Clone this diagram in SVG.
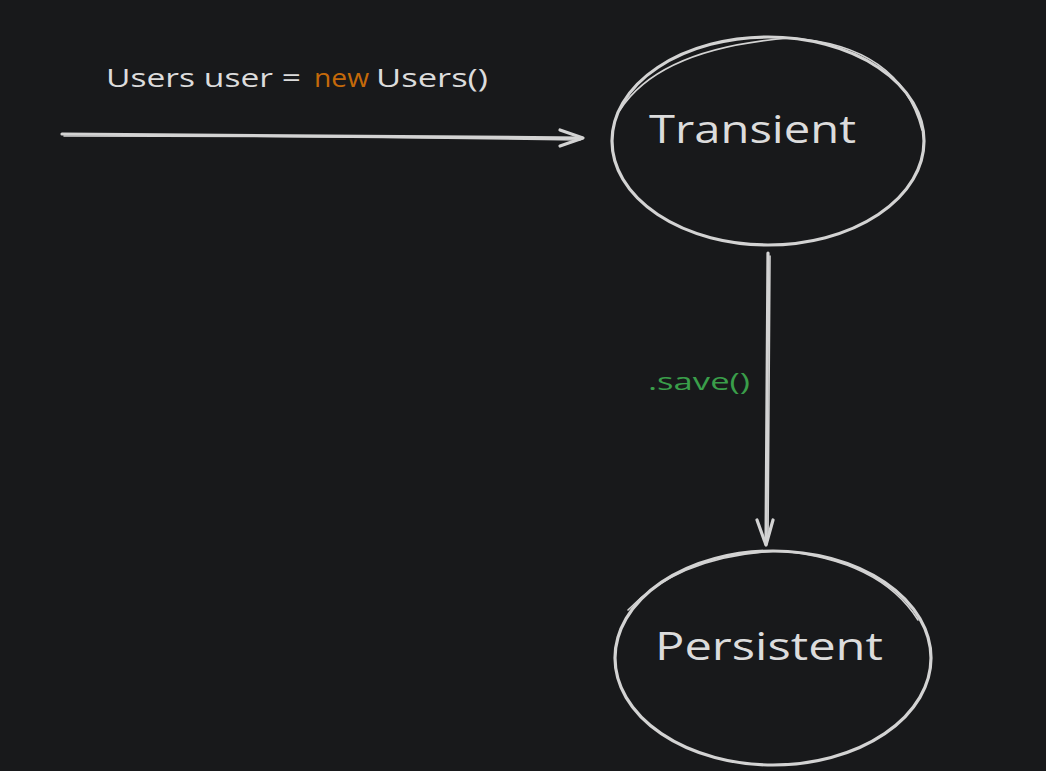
<svg xmlns="http://www.w3.org/2000/svg" width="1046" height="771" viewBox="0 0 1046 771">
<style>
.stroke{fill:none;stroke:#d3d3d3;stroke-width:3.2;stroke-linecap:round;stroke-linejoin:round}
.thin{fill:none;stroke:#d3d3d3;stroke-width:1.6;stroke-linecap:round}
.lbl{font-family:"Open Sans","Liberation Sans",sans-serif;fill:#dcdcdc}
</style>
<rect width="1046" height="771" fill="#18191b"/>
<g id="connectors">
<g id="edge-new">
<path class="stroke" d="M62 134 Q320 135 582 138"/>
<path class="thin" d="M64 136 Q330 136 580 140"/>
<path class="stroke" d="M560 130 L583 138 L560 146"/>
</g>
<g id="edge-save">
<path class="stroke" d="M768 253 Q767 400 766 544"/>
<path class="thin" d="M770 256 Q769 400 768 540"/>
<path class="stroke" d="M757 520 L766 545 L773 520"/>
</g>
<text class="lbl" x="648" y="390" font-size="24" style="fill:#3a9e4a" textLength="102" lengthAdjust="spacingAndGlyphs">.save()</text>
</g>
<g id="label-new">
<text class="lbl" x="106" y="87" font-size="26" textLength="195" lengthAdjust="spacingAndGlyphs">Users user =</text>
<text class="lbl" x="314" y="87" font-size="26" style="fill:#c4690a" textLength="55" lengthAdjust="spacingAndGlyphs">new</text>
<text class="lbl" x="376" y="87" font-size="26" textLength="112" lengthAdjust="spacingAndGlyphs">Users()</text>
</g>
<g id="node-transient">
<ellipse class="stroke" cx="768" cy="141" rx="156" ry="104"/>
<path class="thin" d="M620 110 Q660 48 790 38 Q900 45 922 130"/>
<text class="lbl" x="649" y="143" font-size="38" textLength="207" lengthAdjust="spacingAndGlyphs">Transient</text>
</g>
<g id="node-persistent">
<ellipse class="stroke" cx="773" cy="658" rx="158" ry="107"/>
<path class="thin" d="M628 610 Q680 555 780 551 Q880 560 918 620"/>
<text class="lbl" x="655" y="660" font-size="38" textLength="228" lengthAdjust="spacingAndGlyphs">Persistent</text>
</g>
</svg>
